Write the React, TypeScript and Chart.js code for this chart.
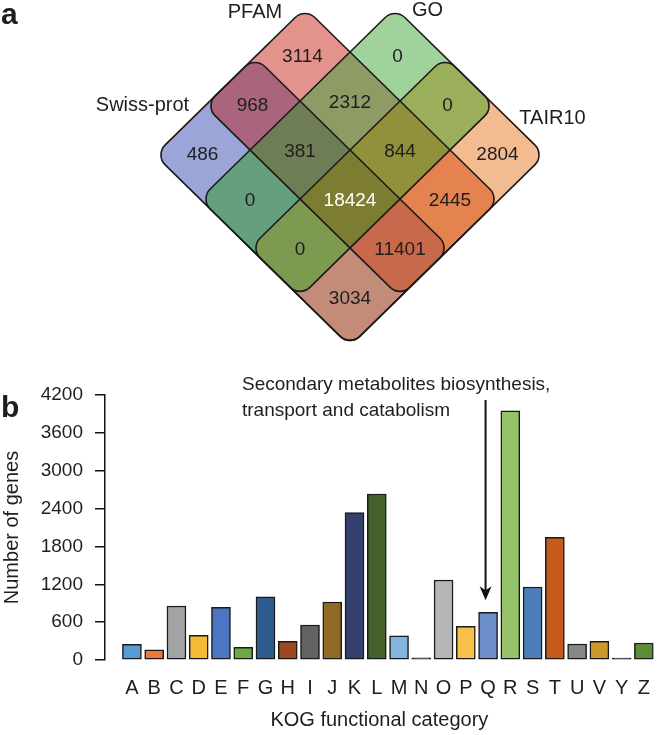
import React, { useEffect, useRef } from 'react';
import { Chart, registerables } from 'chart.js';

Chart.register(...registerables);

const FONT = '"Liberation Sans", Arial, Helvetica, sans-serif';
const TEXT = '#1e1e1e';

// ---- Venn data ----
const vennSetNames = ['Swiss-prot', 'PFAM', 'GO', 'TAIR10'];
const vennSetCodes = ['S', 'P', 'G', 'T'];
const vennRegionSets = ['P', 'G', 'S', 'T', 'PS', 'PG', 'GT', 'SG', 'ST', 'PT', 'PSG', 'PGT', 'PST', 'SGT', 'PSGT'];
const vennRegionCounts = [3114, 0, 486, 2804, 968, 2312, 0, 0, 3034, 2445, 381, 844, 11401, 0, 18424];
const vennRegionFills = [
  '#e3928c', '#a0d29b', '#9ba5d7', '#f3bb90',
  '#aa647d', '#8f9b64', '#9baf5a', '#64a07d', '#c38c78', '#e48250',
  '#6e7d55', '#91913c', '#c8694b', '#7d9b50',
  '#7d7d32',
];

// ---- KOG bar data ----
const kogCategories = ['A', 'B', 'C', 'D', 'E', 'F', 'G', 'H', 'I', 'J', 'K', 'L', 'M', 'N', 'O', 'P', 'Q', 'R', 'S', 'T', 'U', 'V', 'Y', 'Z'];
const kogGeneCounts = [249, 163, 856, 391, 835, 201, 1003, 296, 555, 919, 2335, 2631, 385, 35, 1268, 534, 756, 3950, 1157, 1945, 254, 296, 30, 269];
const kogColors = [
  '#5a9bd4', '#e8793a', '#a3a3a6', '#f4b935', '#4a76c4', '#6aa943', '#2e5b8e', '#9b4722',
  '#626264', '#8f6a25', '#333f6e', '#44632c', '#83b4dd', '#2a2a2a', '#b5b5b8', '#f7c046',
  '#6e8fcc', '#96c36a', '#4a7db9', '#c55a1b', '#878787', '#cc9a2b', '#2a2a2a', '#5c8d36',
];
const yTickValues = [0, 600, 1200, 1800, 2400, 3000, 3600, 4200];
const highlightCategory = 'Q';
const highlightText = ['Secondary metabolites biosynthesis,', 'transport and catabolism'];

function VennChart() {
  const ref = useRef<HTMLCanvasElement>(null);
  useEffect(() => {
    const canvas = ref.current;
    if (!canvas) return;
    const bounds: Record<string, number[]> = {
      S: [-2.4, 1.5, -0.5, 1.5],
      P: [-2.4, 1.5, -1.5, 0.5],
      G: [-1.5, 0.5, -2.4, 1.5],
      T: [-0.5, 1.5, -2.4, 1.5],
    };
    const cellM = (c: string) => (c.includes('G') && c.includes('T') ? 0 : c.includes('G') ? -1 : c.includes('T') ? 1 : -1.95);
    const cellN = (c: string) => (c.includes('P') && c.includes('S') ? 0 : c.includes('P') ? -1 : c.includes('S') ? 1 : -1.95);
    const labelAnchors: Record<string, number[]> = {
      S: [-3.03, 1.12],
      P: [-2.85, -0.95],
      G: [-1.15, -2.7],
      T: [1.2, -2.85],
    };
    const points = vennRegionSets.map((c) => ({ x: cellM(c) - cellN(c), y: cellM(c) + cellN(c) }));

    const plugin = {
      id: 'vennDraw',
      afterDatasetsDraw(chart: any) {
        const ctx = chart.ctx as CanvasRenderingContext2D;
        const xs = chart.scales.x;
        const ys = chart.scales.y;
        const px = (m: number, n: number) => [xs.getPixelForValue(m - n), ys.getPixelForValue(m + n)];
        const rectPath = (k: string) => {
          const [m0, m1, n0, n1] = bounds[k];
          const c = [px(m0, n0), px(m1, n0), px(m1, n1), px(m0, n1)];
          const r = 14;
          ctx.beginPath();
          ctx.moveTo((c[3][0] + c[0][0]) / 2, (c[3][1] + c[0][1]) / 2);
          for (let i = 0; i < 4; i++) {
            const a = c[i];
            const b = c[(i + 1) % 4];
            ctx.arcTo(a[0], a[1], b[0], b[1], r);
          }
          ctx.closePath();
        };
        const order = vennRegionSets.map((_, i) => i).sort((a, b) => vennRegionSets[a].length - vennRegionSets[b].length);
        for (const i of order) {
          ctx.save();
          for (const k of vennRegionSets[i].split('')) {
            rectPath(k);
            ctx.clip();
          }
          ctx.fillStyle = vennRegionFills[i];
          ctx.fillRect(0, 0, chart.width, chart.height);
          ctx.restore();
        }
        ctx.save();
        ctx.lineWidth = 1.6;
        ctx.strokeStyle = '#1a1a1a';
        for (const k of vennSetCodes) {
          rectPath(k);
          ctx.stroke();
        }
        ctx.restore();

        ctx.save();
        ctx.textAlign = 'center';
        ctx.textBaseline = 'middle';
        ctx.font = `19px ${FONT}`;
        vennRegionSets.forEach((c, i) => {
          const p = points[i];
          ctx.fillStyle = c === 'PSGT' ? '#ffffff' : TEXT;
          ctx.fillText(String(vennRegionCounts[i]), xs.getPixelForValue(p.x), ys.getPixelForValue(p.y) + 2);
        });
        ctx.font = `20px ${FONT}`;
        ctx.fillStyle = TEXT;
        vennSetCodes.forEach((k, i) => {
          const [m, n] = labelAnchors[k];
          const [x, y] = px(m, n);
          ctx.fillText(vennSetNames[i], x, y);
        });
        ctx.textAlign = 'left';
        ctx.textBaseline = 'alphabetic';
        ctx.font = `bold 30px ${FONT}`;
        ctx.fillText('a', 1, 24);
        ctx.restore();
      },
    };

    const chart = new Chart(canvas, {
      type: 'scatter',
      data: { datasets: [{ data: points, pointRadius: 0 }] },
      options: {
        responsive: false,
        animation: false,
        layout: { padding: 0 },
        plugins: { legend: { display: false }, tooltip: { enabled: false } },
        scales: {
          x: { type: 'linear', min: -7, max: 6.32, display: false },
          y: { type: 'linear', min: -199 / 49, max: (360 - 199) / 49, reverse: true, display: false },
        },
      },
      plugins: [plugin],
    } as any);
    return () => chart.destroy();
  }, []);
  return <canvas ref={ref} width={666} height={360} style={{ position: 'absolute', left: 0, top: 0, width: 666, height: 360 }} />;
}

function KogChart() {
  const ref = useRef<HTMLCanvasElement>(null);
  useEffect(() => {
    const canvas = ref.current;
    if (!canvas) return;
    const plugin = {
      id: 'kogExtras',
      afterDraw(chart: any) {
        const ctx = chart.ctx as CanvasRenderingContext2D;
        const xs = chart.scales.x;
        const ys = chart.scales.y;
        const qi = kogCategories.indexOf(highlightCategory);
        const ax = xs.getPixelForValue(qi) - 2.5;
        const top = ys.getPixelForValue(4200) + 5;
        const tip = ys.getPixelForValue(kogGeneCounts[qi]) - 12;
        ctx.save();
        ctx.strokeStyle = '#111';
        ctx.lineWidth = 2;
        ctx.beginPath();
        ctx.moveTo(ax, top);
        ctx.lineTo(ax, tip - 8);
        ctx.stroke();
        ctx.fillStyle = '#111';
        ctx.beginPath();
        ctx.moveTo(ax, tip);
        ctx.lineTo(ax - 6, tip - 14);
        ctx.lineTo(ax, tip - 10);
        ctx.lineTo(ax + 6, tip - 14);
        ctx.closePath();
        ctx.fill();
        ctx.font = `19px ${FONT}`;
        ctx.fillStyle = TEXT;
        ctx.textAlign = 'left';
        ctx.textBaseline = 'alphabetic';
        ctx.fillText(highlightText[0], 242, 30);
        ctx.fillText(highlightText[1], 242, 56);
        ctx.font = `bold 30px ${FONT}`;
        ctx.fillText('b', 1, 57);
        ctx.restore();
      },
    };
    const chart = new Chart(canvas, {
      type: 'bar',
      data: {
        datasets: [
          {
            data: kogGeneCounts.map((v, i) => ({ x: i, y: v })),
            backgroundColor: kogColors,
            borderColor: '#1a1a1a',
            borderWidth: 1.5,
            borderSkipped: false,
            barThickness: 19,
          },
        ],
      },
      options: {
        responsive: false,
        animation: false,
        layout: { padding: { top: 35, left: 0, right: 0, bottom: 0 } },
        plugins: { legend: { display: false }, tooltip: { enabled: false } },
        scales: {
          x: {
            type: 'linear',
            min: -1.21,
            max: 23.44,
            offset: false,
            afterBuildTicks: (s: any) => {
              s.ticks = kogCategories.map((_, i) => ({ value: i }));
            },
            afterFit: (s: any) => {
              s.height = 75;
            },
            grid: { display: false, drawTicks: false },
            border: { display: false },
            ticks: {
              callback: (v: any) => kogCategories[v] ?? '',
              font: { size: 20, family: FONT },
              color: TEXT,
              padding: 16,
              maxRotation: 0,
              autoSkip: false,
            },
            title: {
              display: true,
              text: 'KOG functional category',
              font: { size: 20, family: FONT },
              color: TEXT,
              padding: { top: 0, bottom: 3 },
            },
          },
          y: {
            min: 0,
            max: 4200,
            afterBuildTicks: (s: any) => {
              s.ticks = yTickValues.map((v) => ({ value: v }));
            },
            afterFit: (s: any) => {
              s.width = 105;
            },
            grid: { drawOnChartArea: false, drawTicks: true, tickLength: 10, color: '#111', lineWidth: 1.5 },
            border: { display: true, color: '#111', width: 1.5 },
            ticks: {
              callback: (v: any) => String(v),
              font: { size: 19, family: FONT },
              color: TEXT,
              padding: 12,
            },
            title: {
              display: true,
              text: 'Number of genes',
              font: { size: 20, family: FONT },
              color: TEXT,
              padding: 0,
            },
          },
        },
      },
      plugins: [plugin],
    } as any);
    return () => chart.destroy();
  }, []);
  return <canvas ref={ref} width={666} height={375} style={{ position: 'absolute', left: 0, top: 360, width: 666, height: 375 }} />;
}

export default function App() {
  return (
    <div style={{ position: 'absolute', left: 0, top: 0, width: 666, height: 735, background: '#fff' }}>
      <VennChart />
      <KogChart />
    </div>
  );
}
